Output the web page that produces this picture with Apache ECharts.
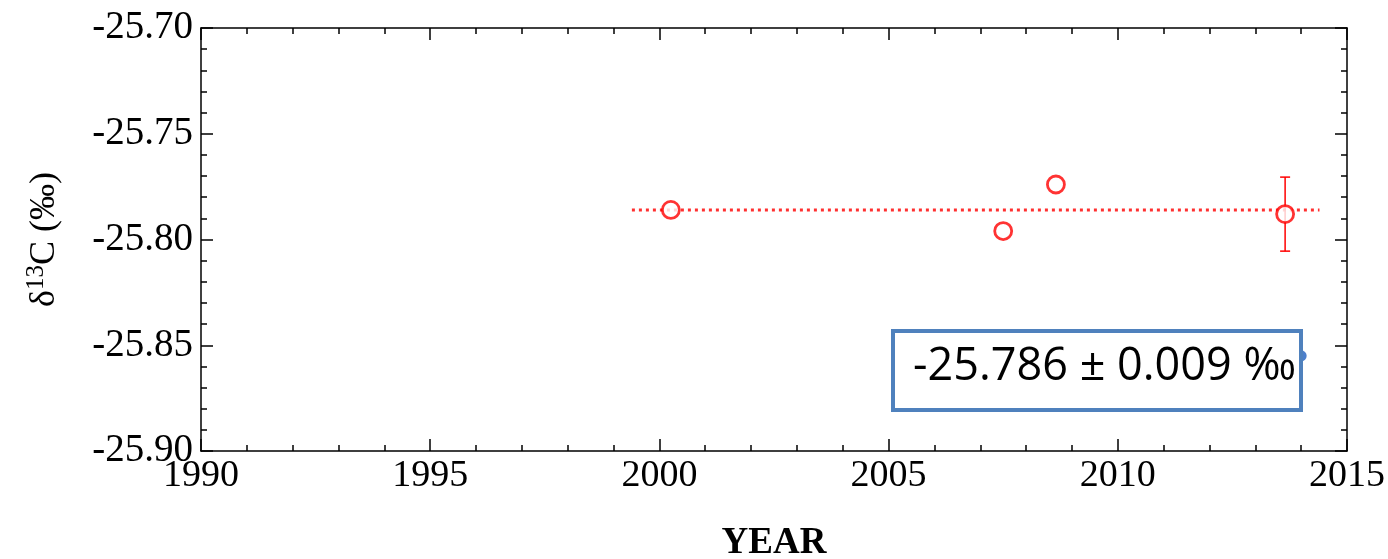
<!DOCTYPE html>
<html>
<head>
<meta charset="utf-8">
<script src="https://cdn.jsdelivr.net/npm/echarts@6/dist/echarts.min.js"></script>
<style>
  html, body { margin: 0; padding: 0; background: #fff; }
  #chart { width: 1388px; height: 559px; }
</style>
</head>
<body>
<div id="chart"></div>
<script>
// measured points (year, delta13C)
const years = [2000.25, 2007.5, 2008.65, 2013.65];
const d13c = [-25.786, -25.796, -25.774, -25.788];
// error bar only on the last point
const errYear = [2013.65];
const errLow = [-25.8055];
const errHigh = [-25.7705];
// mean line
const meanX = [1999.4, 2014.4];
const meanVal = -25.786;
// blue point mostly hidden behind the box
const blueX = [2014.0];
const blueY = [-25.855];

const serif = "'Liberation Serif', 'Times New Roman', serif";

const chart = echarts.init(document.getElementById("chart"));

const axisLine = { lineStyle: { color: "#000", width: 1.5 } };
const tick = { inside: true, length: 12, lineStyle: { color: "#000", width: 1.5 } };
const minor = { show: true, splitNumber: 5, length: 6, lineStyle: { color: "#000", width: 1.5 } };

const option = {
  animation: false,
  backgroundColor: "#fff",
  grid: { left: 201, right: 41, top: 28, bottom: 108, outerBoundsMode: "none" },
  xAxis: [
    {
      type: "value",
      min: 1990,
      max: 2015,
      interval: 5,
      name: "YEAR",
      nameLocation: "middle",
      nameGap: 74,
      nameTextStyle: { fontFamily: serif, fontSize: 37, fontWeight: "bold", color: "#000" },
      axisLine: axisLine,
      axisTick: tick,
      minorTick: minor,
      splitLine: { show: false },
      axisLabel: {
        fontFamily: serif,
        fontSize: 38,
        color: "#000",
        margin: 6,
        formatter: (v) => String(v),
      },
    },
    {
      type: "value",
      position: "top",
      min: 1990,
      max: 2015,
      interval: 5,
      axisLine: axisLine,
      axisTick: tick,
      minorTick: minor,
      splitLine: { show: false },
      axisLabel: { show: false },
    },
  ],
  yAxis: [
    {
      type: "value",
      min: -25.9,
      max: -25.7,
      interval: 0.05,
      name: "{d|δ}{s|13}{d|C (‰)}",
      nameLocation: "middle",
      nameRotate: 90,
      nameGap: 136,
      nameTextStyle: {
        color: "#000",
        rich: {
          d: { fontFamily: serif, fontSize: 36, color: "#000" },
          s: { fontFamily: serif, fontSize: 25, color: "#000", padding: [0, 0, 16, 0] },
        },
      },
      axisLine: axisLine,
      axisTick: tick,
      minorTick: minor,
      splitLine: { show: false },
      axisLabel: {
        fontFamily: serif,
        fontSize: 39,
        color: "#000",
        margin: 8,
        formatter: (v) => v.toFixed(2),
      },
    },
    {
      type: "value",
      position: "right",
      min: -25.9,
      max: -25.7,
      interval: 0.05,
      axisLine: axisLine,
      axisTick: tick,
      minorTick: minor,
      splitLine: { show: false },
      axisLabel: { show: false },
    },
  ],
  series: [
    {
      type: "line",
      data: meanX.map((x) => [x, meanVal]),
      symbol: "none",
      lineStyle: { color: "#ff3030", width: 3, type: [3, 4] },
      z: 2,
    },
    {
      type: "scatter",
      data: blueX.map((x, i) => [x, blueY[i]]),
      symbol: "circle",
      symbolSize: 11,
      itemStyle: { color: "#1f5fbf" },
      z: 1,
    },
    {
      type: "custom",
      data: errYear.map((x, i) => [x, errLow[i], errHigh[i]]),
      renderItem: (params, api) => {
        const lo = api.coord([api.value(0), api.value(1)]);
        const hi = api.coord([api.value(0), api.value(2)]);
        const style = { stroke: "#ff0000", lineWidth: 1.5 };
        return {
          type: "group",
          children: [
            { type: "line", shape: { x1: lo[0], y1: lo[1], x2: hi[0], y2: hi[1] }, style },
            { type: "line", shape: { x1: lo[0] - 5, y1: lo[1], x2: lo[0] + 5, y2: lo[1] }, style },
            { type: "line", shape: { x1: hi[0] - 5, y1: hi[1], x2: hi[0] + 5, y2: hi[1] }, style },
          ],
        };
      },
      z: 3,
    },
    {
      type: "scatter",
      data: years.map((x, i) => [x, d13c[i]]),
      symbol: "circle",
      symbolSize: 17,
      itemStyle: { color: "#fff", borderColor: "#ff0000", borderWidth: 2.8 },
      z: 4,
    },
  ],
  graphic: [
    {
      type: "rect",
      left: 891,
      top: 329,
      z: 100,
      shape: { x: 0, y: 0, width: 408, height: 79 },
      style: { fill: "#fff", stroke: "#4f81bd", lineWidth: 4 },
    },
    {
      type: "text",
      left: 913,
      top: 345,
      z: 101,
      style: {
        text: "-25.786 ± 0.009 ‰",
        fontFamily: "'Open Sans', 'Noto Sans', sans-serif",
        fontSize: 45,
        fill: "#000",
      },
    },
  ],
};

chart.setOption(option);
</script>
</body>
</html>
